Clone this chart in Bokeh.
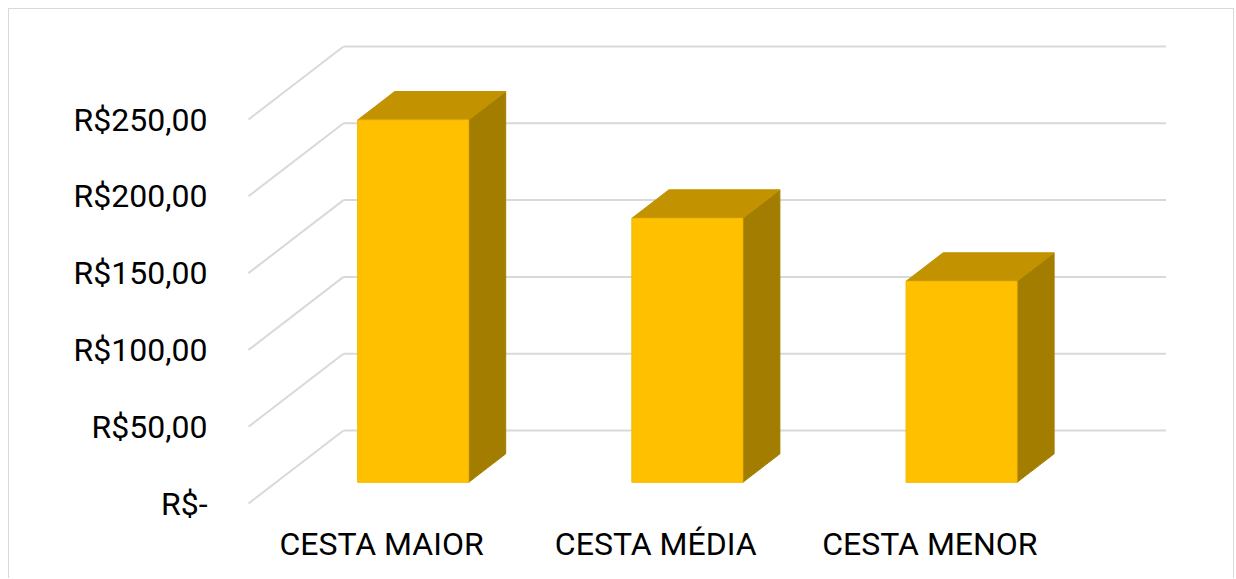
from bokeh.plotting import figure
from bokeh.models import Range1d, LinearAxis, FixedTicker
from bokeh.embed import file_html
from bokeh.resources import INLINE

# ---- data ----
categories = ["CESTA MAIOR", "CESTA MÉDIA", "CESTA MENOR"]
values = [235.9, 171.9, 130.9]
y_ticks = [0, 50, 100, 150, 200, 250]
y_tick_labels = ["R$-", "R$50,00", "R$100,00", "R$150,00", "R$200,00", "R$250,00"]

# ---- layout / geometry constants (image pixels) ----
W, H = 1226, 570
ORIGIN = 9                     # canvas origin in page px (8 margin + 1 border)
FRAME_L, FRAME_R, FRAME_T, FRAME_B = 240, 1200, 16, 514
SLOT_PX = 274.2                # width of one category slot
FLOOR_LEFT_PX = 248            # front-left corner of floor
ZERO_PX = 503                  # y pixel of value 0 on front plane
PX_PER_UNIT = 1.536            # y pixels per value unit
DEPTH_DX_PX, DEPTH_DY_PX = 95, 73
BAR_W_PX = 111
BAR_D0, BAR_D1 = 0.29, 0.68    # bar depth extent (fraction of wall depth)
LABEL0_PX = 381                # centre of first category label

xr = Range1d((FRAME_L - FLOOR_LEFT_PX) / SLOT_PX, (FRAME_R - FLOOR_LEFT_PX) / SLOT_PX)
yr = Range1d(-(FRAME_B - ZERO_PX) / PX_PER_UNIT, (ZERO_PX - FRAME_T) / PX_PER_UNIT)

p = figure(width=W, height=H, x_range=xr, y_range=yr, output_backend="svg",
           toolbar_location=None, x_axis_location=None,
           min_border_left=FRAME_L - ORIGIN, min_border_right=ORIGIN + W - FRAME_R,
           min_border_top=FRAME_T - ORIGIN,
           min_border_bottom=H - (FRAME_T - ORIGIN) - (FRAME_B - FRAME_T))
p.styles = {"margin-left": "8px", "margin-top": "8px",
            "border-top": "1px solid #d9d9d9", "border-left": "1px solid #d9d9d9",
            "border-right": "1px solid #d9d9d9"}
p.outline_line_color = None
p.grid.visible = False
p.background_fill_color = "white"
p.border_fill_color = "white"

DX = DEPTH_DX_PX / SLOT_PX
DY = DEPTH_DY_PX / PX_PER_UNIT
n = len(categories)

# walls gridlines
grid_color = "#d9d9d9"
p.multi_line(xs=[[DX, n + DX] for t in y_ticks], ys=[[t + DY, t + DY] for t in y_ticks],
             line_color=grid_color, line_width=2)
p.multi_line(xs=[[0, DX] for t in y_ticks], ys=[[t, t + DY] for t in y_ticks],
             line_color=grid_color, line_width=2)

# 3D bars
hw = BAR_W_PX / SLOT_PX / 2
o0x, o0y = BAR_D0 * DX, BAR_D0 * DY
o1x, o1y = BAR_D1 * DX, BAR_D1 * DY
front_l, front_r, front_b, front_t = [], [], [], []
top_xs, top_ys, side_xs, side_ys = [], [], [], []
for i, v in enumerate(values):
    c = i + 0.5
    xl, xr_ = c - hw, c + hw
    front_l.append(xl + o0x); front_r.append(xr_ + o0x)
    front_b.append(o0y); front_t.append(v + o0y)
    top_xs.append([xl + o0x, xr_ + o0x, xr_ + o1x, xl + o1x])
    top_ys.append([v + o0y, v + o0y, v + o1y, v + o1y])
    side_xs.append([xr_ + o0x, xr_ + o1x, xr_ + o1x, xr_ + o0x])
    side_ys.append([o0y, o1y, v + o1y, v + o0y])

p.patches(side_xs, side_ys, fill_color="#A37D00", line_color="#A37D00", line_width=1)
p.patches(top_xs, top_ys, fill_color="#C29200", line_color="#C29200", line_width=1)
p.quad(left=front_l, right=front_r, bottom=front_b, top=front_t,
       fill_color="#FFC000", line_color="#F2B800", line_width=1)

# y axis
ya = p.yaxis[0]
ya.ticker = FixedTicker(ticks=y_ticks)
ya.major_label_overrides = {t: lab for t, lab in zip(y_ticks, y_tick_labels)}
ya.axis_line_color = None
ya.major_tick_line_color = None
ya.minor_tick_line_color = None
ya.major_label_standoff = 27
ya.major_label_text_font = "Roboto"
ya.major_label_text_font_size = "32px"
ya.major_label_text_color = "#000000"

# x axis (category labels)
span = (FRAME_R - FRAME_L) / SLOT_PX
a = -(LABEL0_PX - FRAME_L) / SLOT_PX
p.extra_x_ranges = {"cat": Range1d(a, a + span)}
xa = LinearAxis(x_range_name="cat", ticker=FixedTicker(ticks=list(range(n))),
                major_label_overrides={i: c for i, c in enumerate(categories)})
xa.axis_line_color = None
xa.major_tick_line_color = None
xa.minor_tick_line_color = None
xa.major_label_standoff = 4
xa.major_label_text_font = "Roboto"
xa.major_label_text_font_size = "32px"
xa.major_label_text_color = "#000000"
p.add_layout(xa, "below")

open("out.html", "w").write(file_html(p, INLINE))
